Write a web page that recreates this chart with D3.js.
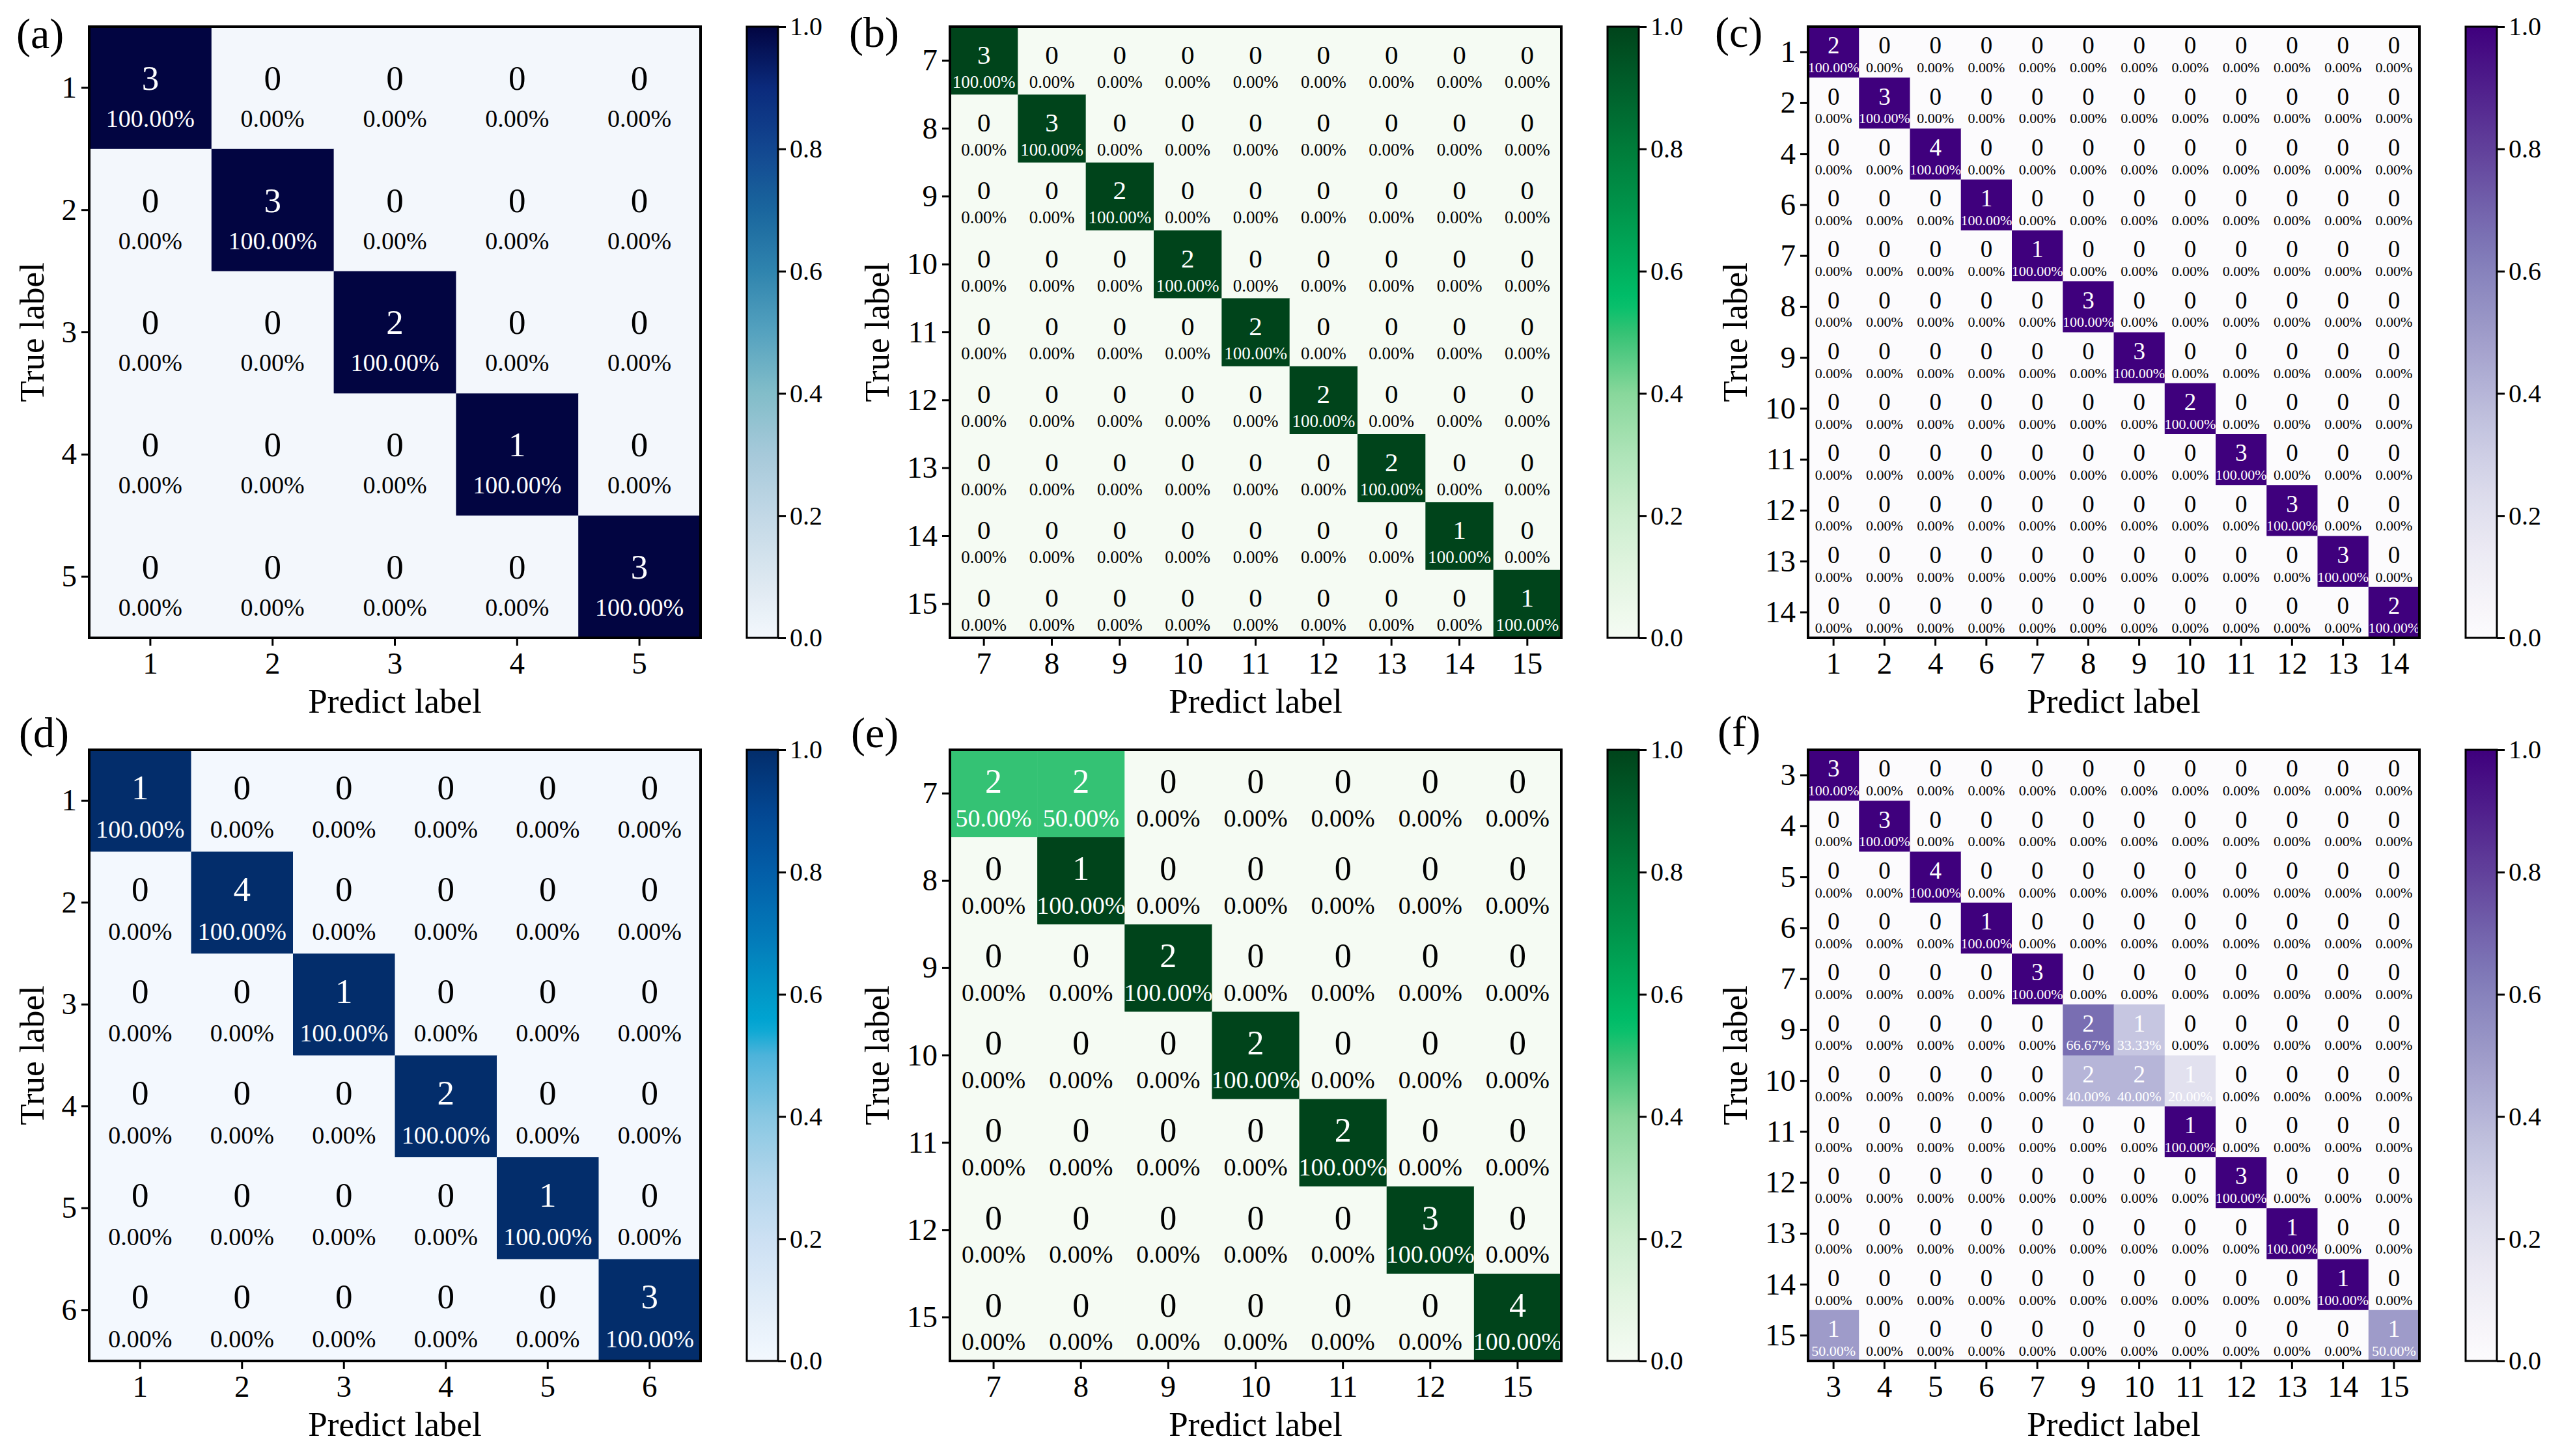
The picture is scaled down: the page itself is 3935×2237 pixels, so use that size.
<!DOCTYPE html>
<html>
<head>
<meta charset="utf-8">
<title>Confusion matrices</title>
<style>
  body { margin: 0; background: #fff; }
  svg { display: block; font-family: "Liberation Serif", "Times New Roman", serif; }
</style>
</head>
<body>
<script src="https://d3js.org/d3.v7.min.js"></script>
<script>
// ---- data ----
var labelsA = [1, 2, 3, 4, 5];
var countsA = [
  [3, 0, 0, 0, 0],
  [0, 3, 0, 0, 0],
  [0, 0, 2, 0, 0],
  [0, 0, 0, 1, 0],
  [0, 0, 0, 0, 3]
];

var labelsB = [7, 8, 9, 10, 11, 12, 13, 14, 15];
var countsB = [
  [3, 0, 0, 0, 0, 0, 0, 0, 0],
  [0, 3, 0, 0, 0, 0, 0, 0, 0],
  [0, 0, 2, 0, 0, 0, 0, 0, 0],
  [0, 0, 0, 2, 0, 0, 0, 0, 0],
  [0, 0, 0, 0, 2, 0, 0, 0, 0],
  [0, 0, 0, 0, 0, 2, 0, 0, 0],
  [0, 0, 0, 0, 0, 0, 2, 0, 0],
  [0, 0, 0, 0, 0, 0, 0, 1, 0],
  [0, 0, 0, 0, 0, 0, 0, 0, 1]
];

var labelsC = [1, 2, 4, 6, 7, 8, 9, 10, 11, 12, 13, 14];
var countsC = [
  [2, 0, 0, 0, 0, 0, 0, 0, 0, 0, 0, 0],
  [0, 3, 0, 0, 0, 0, 0, 0, 0, 0, 0, 0],
  [0, 0, 4, 0, 0, 0, 0, 0, 0, 0, 0, 0],
  [0, 0, 0, 1, 0, 0, 0, 0, 0, 0, 0, 0],
  [0, 0, 0, 0, 1, 0, 0, 0, 0, 0, 0, 0],
  [0, 0, 0, 0, 0, 3, 0, 0, 0, 0, 0, 0],
  [0, 0, 0, 0, 0, 0, 3, 0, 0, 0, 0, 0],
  [0, 0, 0, 0, 0, 0, 0, 2, 0, 0, 0, 0],
  [0, 0, 0, 0, 0, 0, 0, 0, 3, 0, 0, 0],
  [0, 0, 0, 0, 0, 0, 0, 0, 0, 3, 0, 0],
  [0, 0, 0, 0, 0, 0, 0, 0, 0, 0, 3, 0],
  [0, 0, 0, 0, 0, 0, 0, 0, 0, 0, 0, 2]
];

var labelsD = [1, 2, 3, 4, 5, 6];
var countsD = [
  [1, 0, 0, 0, 0, 0],
  [0, 4, 0, 0, 0, 0],
  [0, 0, 1, 0, 0, 0],
  [0, 0, 0, 2, 0, 0],
  [0, 0, 0, 0, 1, 0],
  [0, 0, 0, 0, 0, 3]
];

var labelsE = [7, 8, 9, 10, 11, 12, 15];
var countsE = [
  [2, 2, 0, 0, 0, 0, 0],
  [0, 1, 0, 0, 0, 0, 0],
  [0, 0, 2, 0, 0, 0, 0],
  [0, 0, 0, 2, 0, 0, 0],
  [0, 0, 0, 0, 2, 0, 0],
  [0, 0, 0, 0, 0, 3, 0],
  [0, 0, 0, 0, 0, 0, 4]
];

var labelsF = [3, 4, 5, 6, 7, 9, 10, 11, 12, 13, 14, 15];
var countsF = [
  [3, 0, 0, 0, 0, 0, 0, 0, 0, 0, 0, 0],
  [0, 3, 0, 0, 0, 0, 0, 0, 0, 0, 0, 0],
  [0, 0, 4, 0, 0, 0, 0, 0, 0, 0, 0, 0],
  [0, 0, 0, 1, 0, 0, 0, 0, 0, 0, 0, 0],
  [0, 0, 0, 0, 3, 0, 0, 0, 0, 0, 0, 0],
  [0, 0, 0, 0, 0, 2, 1, 0, 0, 0, 0, 0],
  [0, 0, 0, 0, 0, 2, 2, 1, 0, 0, 0, 0],
  [0, 0, 0, 0, 0, 0, 0, 1, 0, 0, 0, 0],
  [0, 0, 0, 0, 0, 0, 0, 0, 3, 0, 0, 0],
  [0, 0, 0, 0, 0, 0, 0, 0, 0, 1, 0, 0],
  [0, 0, 0, 0, 0, 0, 0, 0, 0, 0, 1, 0],
  [1, 0, 0, 0, 0, 0, 0, 0, 0, 0, 0, 1]
];

var cbarTicks = [0, 0.2, 0.4, 0.6, 0.8, 1.0];

// ---- colour maps ----
function ramp(stops) {
  return d3.scaleLinear()
    .domain(stops.map(function(s) { return s[0]; }))
    .range(stops.map(function(s) { return s[1]; }))
    .interpolate(d3.interpolateRgb)
    .clamp(true);
}

var navyMap = ramp([
  [0.0, "#f3f7fc"], [0.1, "#dbe7f0"], [0.2, "#c2d8e6"], [0.3, "#a6c9da"],
  [0.4, "#82bdc9"], [0.5, "#55a2bf"], [0.6, "#2f84ae"], [0.7, "#1a669e"],
  [0.8, "#124790"], [0.9, "#0b2a7c"], [1.0, "#020541"]
]);
var blueMap = ramp([
  [0.0, "#f3f8fe"], [0.1, "#e0ecf8"], [0.2, "#cce0f3"], [0.3, "#b0d5eb"],
  [0.4, "#88c7e2"], [0.5, "#4db3da"], [0.55, "#00a6d3"], [0.6, "#0298c8"],
  [0.7, "#0378b8"], [0.8, "#035ea8"], [0.9, "#034691"], [1.0, "#032d6b"]
]);
var greenMap = ramp([
  [0.0, "#f5fbf3"], [0.1, "#e3f5e2"], [0.2, "#cdeecf"], [0.3, "#aee4b8"],
  [0.4, "#88d79b"], [0.5, "#34c274"], [0.55, "#00bf6a"], [0.6, "#00b15f"],
  [0.7, "#00954b"], [0.8, "#007c3a"], [0.9, "#005f2b"], [1.0, "#00441b"]
]);
var purpleMap = d3.interpolatePurples;

// ---- layout ----
var W = 3935, H = 2237;
var size = 939;

var panels = [
  { tag: "(a)", labels: labelsA, counts: countsA, cmap: navyMap, x: 137, y: 41, tx: 25, ty: 74,
    nFont: 53, pFont: 38, nDy: -0.08, pDy: 0.25 },
  { tag: "(b)", labels: labelsB, counts: countsB, cmap: greenMap, x: 1459, y: 41, tx: 1304, ty: 72,
    nFont: 41, pFont: 27, nDy: -0.09, pDy: 0.31 },
  { tag: "(c)", labels: labelsC, counts: countsC, cmap: purpleMap, x: 2777, y: 41, tx: 2634, ty: 72,
    nFont: 37, pFont: 22, nDy: -0.13, pDy: 0.30 },
  { tag: "(d)", labels: labelsD, counts: countsD, cmap: blueMap, x: 137, y: 1152, tx: 29, ty: 1148,
    nFont: 53, pFont: 38, nDy: -0.13, pDy: 0.28 },
  { tag: "(e)", labels: labelsE, counts: countsE, cmap: greenMap, x: 1459, y: 1152, tx: 1307, ty: 1148,
    nFont: 52, pFont: 38, nDy: -0.14, pDy: 0.28 },
  { tag: "(f)", labels: labelsF, counts: countsF, cmap: purpleMap, x: 2777, y: 1152, tx: 2638, ty: 1146,
    nFont: 37, pFont: 22, nDy: -0.13, pDy: 0.30 }
];

var svg = d3.select("body").append("svg")
  .attr("width", W)
  .attr("height", H);

svg.append("rect").attr("width", W).attr("height", H).attr("fill", "#fff");

var fmtPct = d3.format(".2%");
var fmtTick = d3.format(".1f");

panels.forEach(function(p, k) {
  var g = svg.append("g").attr("transform", "translate(" + p.x + "," + p.y + ")");

  var x = d3.scaleBand().domain(p.labels).range([0, size]);
  var y = d3.scaleBand().domain(p.labels).range([0, size]);
  var bw = x.bandwidth();

  //one record per cell, percentage by row
  var cells = [];
  p.counts.forEach(function(row, i) {
    var total = d3.sum(row);
    row.forEach(function(v, j) {
      cells.push({ r: p.labels[i], c: p.labels[j], n: v, f: total ? v / total : 0 });
    });
  });

  g.selectAll(".cell")
    .data(cells)
    .enter().append("rect")
    .attr("class", "cell")
    .attr("x", function(d) { return x(d.c); })
    .attr("y", function(d) { return y(d.r); })
    .attr("width", bw + 0.6)
    .attr("height", bw + 0.6)
    .attr("fill", function(d) { return p.cmap(d.f); });

  g.selectAll(".num")
    .data(cells)
    .enter().append("text")
    .attr("x", function(d) { return x(d.c) + bw / 2; })
    .attr("y", function(d) { return y(d.r) + bw / 2 + p.nDy * bw; })
    .attr("text-anchor", "middle")
    .attr("dominant-baseline", "central")
    .attr("font-size", p.nFont)
    .attr("fill", function(d) { return d.n > 0 ? "#fff" : "#000"; })
    .text(function(d) { return d.n; });

  g.selectAll(".pct")
    .data(cells)
    .enter().append("text")
    .attr("x", function(d) { return x(d.c) + bw / 2; })
    .attr("y", function(d) { return y(d.r) + bw / 2 + p.pDy * bw; })
    .attr("text-anchor", "middle")
    .attr("dominant-baseline", "central")
    .attr("font-size", p.pFont)
    .attr("fill", function(d) { return d.n > 0 ? "#fff" : "#000"; })
    .text(function(d) { return fmtPct(d.f); });

  //frame
  g.append("rect")
    .attr("width", size)
    .attr("height", size)
    .attr("fill", "none")
    .attr("stroke", "#000")
    .attr("stroke-width", 4);

  var xAxis = g.append("g")
    .attr("transform", "translate(0," + size + ")")
    .call(d3.axisBottom(x).tickSize(12).tickPadding(10));
  var yAxis = g.append("g")
    .call(d3.axisLeft(y).tickSize(12).tickPadding(7));

  [xAxis, yAxis].forEach(function(a) {
    a.select(".domain").remove();
    a.selectAll("line").attr("stroke-width", 3);
    a.selectAll("text")
      .attr("font-size", 47)
      .attr("font-family", "Liberation Serif, Times New Roman, serif")
      .attr("fill", "#000");
  });

  var yw = yAxis.node().getBBox().width;

  g.append("text")
    .attr("transform", "translate(" + (-yw - 28) + "," + (size / 2) + ") rotate(-90)")
    .attr("text-anchor", "middle")
    .attr("font-size", 53)
    .text("True label");

  g.append("text")
    .attr("x", size / 2)
    .attr("y", size + 115)
    .attr("text-anchor", "middle")
    .attr("font-size", 53)
    .text("Predict label");

  svg.append("text")
    .attr("x", p.tx)
    .attr("y", p.ty)
    .attr("font-size", 66)
    .text(p.tag);

  //colour bar
  var cbX = size + 71, cbW = 48;
  var cy = d3.scaleLinear().domain([0, 1]).range([size, 0]);

  var grad = svg.append("defs").append("linearGradient")
    .attr("id", "cbar" + k)
    .attr("x1", 0).attr("y1", 1)
    .attr("x2", 0).attr("y2", 0);
  grad.selectAll("stop")
    .data(d3.range(0, 1.0001, 0.02))
    .enter().append("stop")
    .attr("offset", function(d) { return d; })
    .attr("stop-color", function(d) { return p.cmap(d); });

  var cb = g.append("g").attr("transform", "translate(" + cbX + ",0)");
  cb.append("rect")
    .attr("width", cbW)
    .attr("height", size)
    .attr("fill", "url(#cbar" + k + ")")
    .attr("stroke", "#000")
    .attr("stroke-width", 3);

  var cAxis = cb.append("g")
    .attr("transform", "translate(" + cbW + ",0)")
    .call(d3.axisRight(cy).tickValues(cbarTicks).tickFormat(fmtTick).tickSize(12).tickPadding(6));
  cAxis.select(".domain").remove();
  cAxis.selectAll("line").attr("stroke-width", 3);
  cAxis.selectAll("text")
    .attr("font-size", 40)
    .attr("font-family", "Liberation Serif, Times New Roman, serif")
    .attr("fill", "#000");
});
</script>
</body>
</html>
